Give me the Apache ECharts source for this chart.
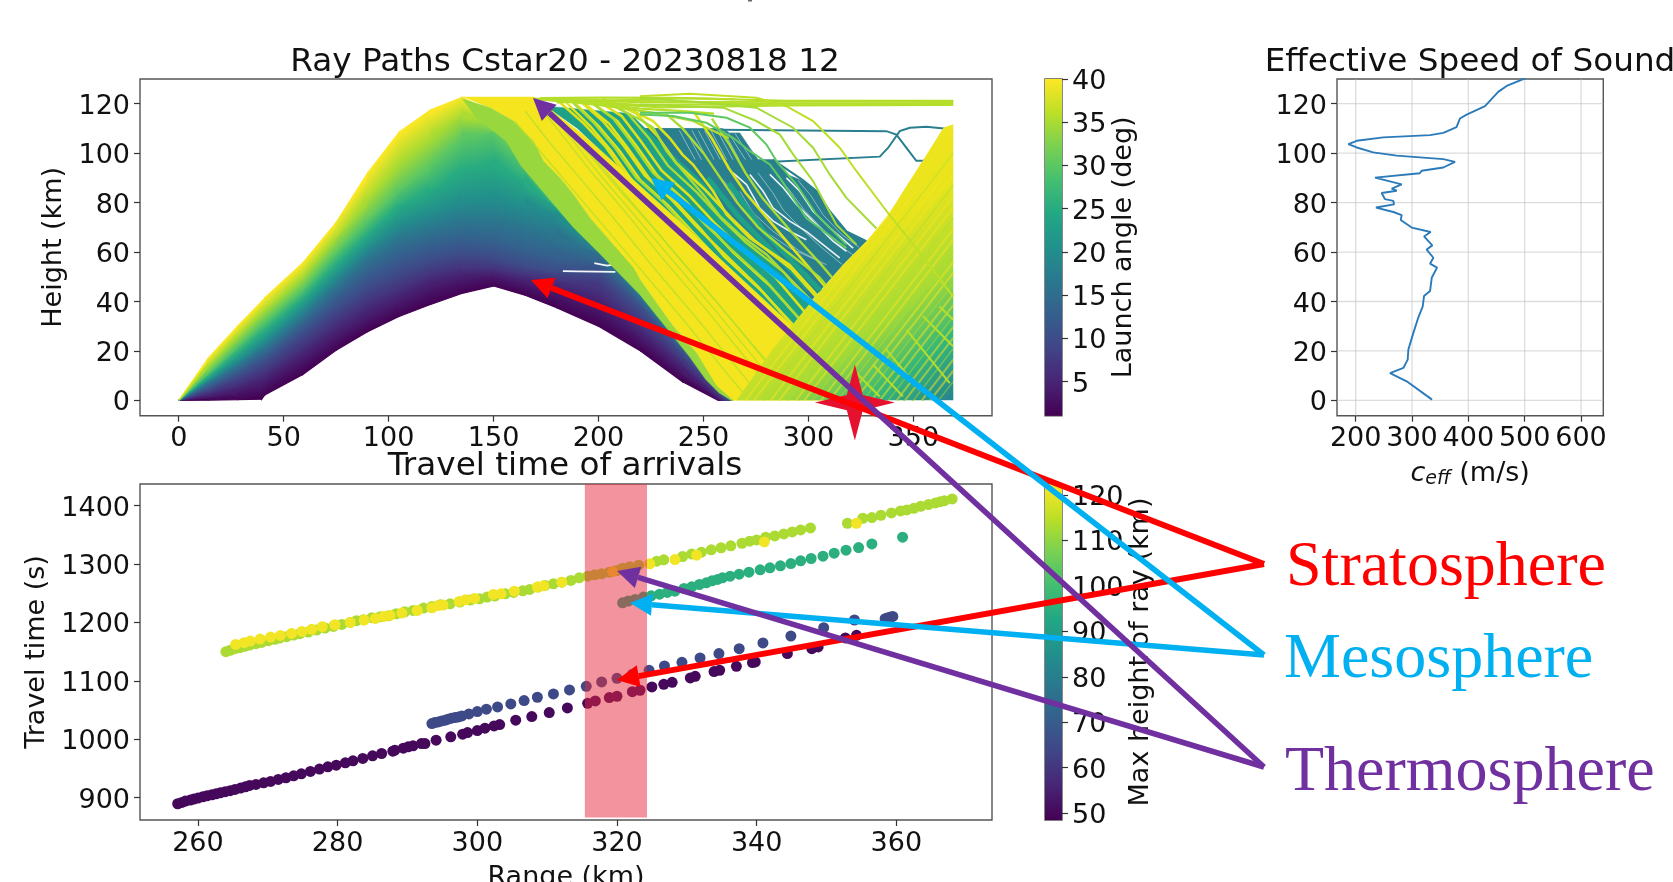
<!DOCTYPE html>
<html><head><meta charset="utf-8">
<style>html,body{margin:0;padding:0;background:#fff}#c{width:1673px;height:882px}</style>
<script src="https://cdn.jsdelivr.net/npm/echarts@6/dist/echarts.min.js"></script>
</head><body><div id="c"></div>
<script>
// ---------- tick labels ----------
const rangeTicksTop=[0,50,100,150,200,250,300,350];
const heightTicks=[0,20,40,60,80,100,120];
const launchTicks=[5,10,15,20,25,30,35,40];
const ceffTicks=[200,300,400,500,600];
const rangeTicksBottom=[260,280,300,320,340,360];
const timeTicks=[900,1000,1100,1200,1300,1400];
const maxHeightTicks=[50,60,70,80,90,100,110,120];

// ---------- effective speed of sound [c (m/s), height (km)] ----------
const ceffProfile=[[335.5,.3],[290.5,7.7],[261,11],[284.6,13.1],[292.3,16.5],[293.5,20.6],[302.4,27.3],[311,33.4],[319,38],[321.3,42.2],[332,44.2],[335,49.6],[344.4,53.7],[332,55.3],[337.9,57.7],[326,61],[336,62.7],[321.3,66.3],[333,68.1],[299.4,69.9],[279.9,73],[281.7,74.9],[266.9,76.2],[236,78],[268,79.3],[266.9,80.7],[252,81.4],[246,83.9],[272.8,84.8],[263.9,85.7],[281.7,87.4],[234.3,90.1],[314,91.9],[317,92.9],[355.6,94.2],[376.3,96.5],[355.6,97.6],[272.8,99],[231,100.3],[201.8,102.3],[187,103.7],[201.8,105],[249,106.4],[332,107.3],[355.6,108.2],[379,110.5],[385,114],[397,115.6],[429.6,119],[453,124.8],[468,127.2],[502,130.4]];

// ---------- arrivals [range (km), travel time (s)] ----------
const lowArrivals=[[257.1,889.7],[257.7,892],[258.2,894.3],[258.9,896],[259.4,897.7],[260,899.4],[260.7,901.7],[261.3,903.4],[262,905.1],[262.6,906.8],[263.2,908.5],[263.9,910.3],[264.6,912],[265.3,914.2],[266.1,916.5],[266.8,918.8],[267.4,921],[268.3,922.8],[269.4,925.6],[270.4,927.9],[271.5,931.3],[272.6,934.2],[273.7,937.6],[274.8,941],[276.1,945],[277.4,949],[278.6,953],[279.8,955.8],[281.1,959.8],[282.2,963.2],[283.6,967.2],[285,971.8],[286.3,975.7],[287.9,979.7],[288.2,981.4],[289.4,984.9],[290.1,987.1],[290.8,988.8],[292,992.8],[292.5,992.8],[294.1,998.5],[296.2,1004.2],[297.9,1008.8],[298.6,1011.6],[300,1015],[301.1,1019],[302.4,1023],[303.2,1025.3],[305.5,1032.7],[307.8,1039],[310.3,1045.8],[312.9,1053.8],[315.8,1061.7],[316.9,1065.7],[318.9,1071.4],[320,1073.7],[322.2,1081.6],[323.3,1084],[325,1089.6],[326.7,1094.2],[327.9,1097.6],[330.5,1105],[331.2,1107.9],[333.9,1115.9],[334.7,1118.2],[337.1,1125],[339.4,1131.3],[339.8,1132.5],[344.4,1146.7],[347.9,1155.2],[348.8,1158.1],[352.7,1173.5],[354.3,1178]];
const stratArrivals=[[293.5,1027],[293.9,1028.7],[294.4,1029.8],[294.9,1031.5],[295.4,1032.7],[295.8,1034.4],[296.3,1036.1],[296.8,1037.2],[297.3,1038.4],[297.8,1040.1],[298.8,1043.5],[300,1047.5],[301.3,1051.5],[302.9,1055.5],[304.8,1060.6],[306.7,1066.3],[308.6,1072],[310.9,1077.7],[313.2,1084.5],[315.6,1090.8],[317.8,1098.2],[320,1104.4],[322.2,1111.3],[324.6,1118.1],[326.8,1125.5],[329.3,1131.8],[331.9,1139.2],[334.6,1146.7],[337.5,1155.2],[340.9,1164.9],[344.9,1176.8],[349.6,1191.1],[354,1204.2],[358.4,1206.4],[358.8,1208.1],[359.2,1209.2],[359.5,1210.4]];
const mesoArrivals=[[320.8,1233.7],[321.6,1236.6],[322.6,1239.4],[323.8,1243.4],[324.9,1245.7],[326.1,1248.5],[327.2,1251.4],[328.3,1253.6],[329.6,1258.2],[330.7,1261],[331.8,1265],[332.8,1267.9],[333.6,1271.3],[334.4,1273.6],[335.1,1276.4],[336.2,1279.3],[337.5,1282.7],[338.9,1286.1],[340.5,1290.1],[341.9,1293.5],[343.4,1296.9],[344.9,1300.9],[346.3,1305.5],[347.8,1309.5],[349.5,1313.4],[351.1,1318.6],[352.8,1323.7],[354.6,1328.2],[356.5,1334.5],[360.9,1345.9]];
const thermoLowArrivals=[[264,1150],[264.6,1152.3],[265.3,1155.1],[266,1156.8],[266.7,1159.1],[267.4,1161.4],[268.3,1163.7],[269.1,1165.9],[270.1,1168.8],[271,1171.1],[271.7,1173.3],[272.7,1175.6],[273.7,1178.5],[274.6,1180.8],[275.8,1183.6],[277,1187],[278.2,1190.4],[279.4,1193.3],[280.6,1196.7],[281.8,1200.1],[282.7,1203],[283.7,1204.7],[284.9,1208.1],[286.1,1209.8],[287.3,1211.5],[288.4,1214.9],[289.6,1218.3],[290.8,1220.6],[292.3,1224.6],[293.5,1227.4],[294.7,1230.3],[296.1,1232],[297.5,1234.9],[299,1238.3],[300.3,1240.5],[301.4,1243.4],[302.5,1245.1],[304,1249.1],[305.2,1251.4],[306.5,1254.2],[307.5,1256.5],[308.7,1260.5],[309.7,1263.3],[310.9,1266.2],[312.1,1269],[313.4,1271.9],[314.6,1276.4],[315.8,1279.3],[316.8,1281.5],[317.8,1283.3],[318.9,1286.1],[320,1288.9],[320.8,1292.9],[321.8,1295.2],[323.1,1298.1],[325.7,1304.9],[326.7,1307.2],[329.4,1312.9],[330.7,1317.4],[332.1,1320.3],[333.5,1324.3],[334.9,1327.7],[336.3,1331.1],[337.9,1335.6],[339,1339.1],[340,1341.3],[341.3,1345.9],[342.6,1348.2],[343.9,1351.6],[345.1,1355],[346.3,1358.4],[347.7,1361.8],[353,1369.8],[355.2,1378.4],[356.5,1379.5],[357.8,1383.5],[359.3,1387.5],[360.6,1390.9],[361.5,1392.6],[362.5,1395.4],[363.5,1398.9],[364.6,1401.7],[365.6,1404.6],[366.3,1406.8],[366.9,1408.5],[368,1411.4]];
const thermoHighArrivals=[[265.4,1162.5],[266.6,1165.4],[267.5,1168.2],[268.9,1171.6],[270.4,1175.1],[271.8,1177.9],[273.4,1181.3],[274.9,1184.7],[276.3,1188.2],[277.8,1192.7],[279.6,1196.1],[281.8,1200.1],[283.8,1204.1],[285.4,1206.9],[286.6,1210.4],[287.5,1212.1],[289.2,1216.1],[291.4,1220.6],[293.5,1225.2],[294.4,1229.2],[295.1,1229.7],[297.4,1236],[298.3,1238.8],[299.6,1241.1],[302.3,1247.9],[303.4,1249.1],[305.3,1253.6],[308.6,1260.5],[309.5,1262.8],[312.1,1269],[319.4,1287.2],[324.7,1300.3],[328.3,1307.7],[331.4,1315.1],[341.1,1337.9],[354.3,1369.8]];
const arrivalHeights={low:50,strat:65,meso:95,thermoLow:113,thermoHigh:121};
const windowRange=[315.4,324.3];
const windowTime=[866,1437];
const stationPoint=[322.1,-0.9];

// ---------- ray fan: launch angle, height (km) at each fan range, ground-hit range ----------
const fanRange=[0,14,28,39.5,41,59,75,90,105,120,135,150,165,180,200,220,240];
const fanAngles=[1,4,7,10,13,16,20,25,30,35,40];
const fanEnd=[257,258.5,260,262,263.6,263.6,263.6,263.6,263.6,263.6,263.6];
const fanHeights=[
[0,.1,.3,.5,2.2,10.4,20.3,27.8,34,38.8,43.3,46.3,42.5,37.5,30,20,7.5],
[0,1.6,3.5,7,7.3,17,26,34,40,46,49.5,50.5,47.5,44,38,26,12],
[0,3,7,11,11.5,22,32,40,46,51.5,54,53.5,51,49,46,31,16],
[0,4.5,9.7,15,15.5,27,37,46,52,57,59.5,58,54.5,52,52,37,19],
[0,5.8,12,18,18.6,30.5,42,52,59,63,65.5,64.5,61,58,56,40,21],
[0,7,14,20.5,21,33.5,46,57,65,69,72,72,69,66,60,42,21.5],
[0,8,16,23,24,37,50,62,71,76,80.5,81.5,79,76,60.5,42.5,22],
[0,9.5,19,27,28,41,55,67,79,85,93,96,89,78,61,43,22],
[0,11,22,31,32,45,60,73,85,95,106,109,96,79,61.5,43.5,22.5],
[0,14,26,35.5,36.5,50,66,81,96,106,116,112,100,80,62,44,23],
[0,17,30,40,41.5,55.5,72,92,108.5,117.5,122.6,116,105,81,62.5,44.5,23.5]];

// ---------- ray bundles drawn as outlines [range, height] ----------
const tealBundle=[[190,115],[205,110],[259,110],[262.5,108.2],[267.3,108.2],[272.1,102.1],[276,97.4],[283,97.4],[291,91],[297.5,88.7],[303.9,84.6],[310.2,76.5],[318.1,68.4],[327.6,64.4],[316.5,54.9],[302,41],[283,21],[240,60]];
const greenBundle=[[175,119],[215,116],[232,102],[250,88],[272,64],[296,44],[310,30],[280,10],[240,69],[190,110]];
const yellowBundle=[[135.7,122.7],[169,122.7],[192,108],[243,69],[295,28],[320,5],[320,0],[264,0],[256.2,5.7],[246.7,19.2],[235.6,29.9],[219.7,48.9],[207,63],[195.9,73.8],[188,83.3],[181.6,90],[173.7,96.8],[168.9,104.9],[159.4,113],[148.3,118.4]];
const limeBundle=[[135,122],[148.3,118.4],[159.4,113],[168.9,104.9],[173.7,96.8],[181.6,90],[188,83.3],[195.9,73.8],[207,63],[216.6,53.6],[219.7,48.9],[235.6,29.9],[246.7,19.2],[256.2,5.7],[264.1,0],[263.2,0],[257.5,3],[251.1,8.4],[243.2,17.8],[235.6,25.9],[219.7,42.8],[201,59],[188,70],[175,83],[163,95],[156,105],[142,114]];
const reflectedBundle=[[265.8,0],[283.2,21],[302.2,40.8],[316.5,54.9],[327.6,64.4],[337.2,73.8],[345.1,84.6],[354.8,97.4],[364.3,110.3],[369,111.7],[369,0]];

// ---------- single rays [range, height] ----------
const thinRays=[
[[178,117],[190,106],[205,91],[222,74],[240,56],[262,34],[285,10],[296,0]],
[[174,119],[186,107],[200,92],[217,75],[235,57],[257,35],[280,11],[291,0]],
[[170,121],[182,108],[196,93],[212,77],[230,58],[252,36],[275,12],[287,0]],
[[165,117],[177,104],[190,91],[206,75],[224,56],[246,34],[268,11],[279,0]],
[[160,113],[172,101],[185,88],[200,73],[218,55],[240,33],[262,10],[272,0]],
[[182,112],[195,100],[210,85],[228,68],[246,50],[268,28],[290,6],[296,0]]];
const thermoRays=[
[[181,121],[193,112],[203,103],[214,90],[226,80],[238,70],[250,58],[268,42],[290,21],[315,0]],
[[186,122],[198,112],[208,102],[218,90],[231,80],[243,69],[255,59],[272,44],[295,22],[320,0]],
[[190,122],[202,113],[212,103],[222,91],[235,81],[247,70],[259,60],[276,46],[299,24],[324,0]],
[[194,122],[207,114],[216,104],[226,92],[239,82],[251,71],[262,62],[280,48],[303,26],[328,0]],
[[198,122],[211,115],[220,105],[230,93],[243,83],[255,72],[266,63],[284,50],[307,27],[333,0]],
[[202,122],[214,116],[224,106],[233,95],[247,84],[259,73],[270,64],[288,52],[311,29],[338,0]],
[[206,121],[218,116],[228,107],[237,96],[251,85],[263,74],[274,65],[292,53],[315,31],[343,0]],
[[205,120],[219.7,113.6],[226,110.3],[232.4,100.8],[240.3,92.7],[249.9,83.2],[257.8,74.5],[267.3,67],[280,59],[296,45],[320,24],[346,0]],
[[214,118],[226,113],[234,106],[240,99.4],[245,95.4],[254.6,84.6],[261,75.2],[272,65.7],[291,54.9],[310,37],[350,0]],
[[232,116],[240,110],[250,100],[258,90],[266,80],[276,70],[290,60],[305,50],[330,25],[355,0]],
[[246,116],[254,106],[262,94],[270,84],[284,70],[300,54],[310,44]],
[[254,114],[262,104],[270,92],[278,82],[292,68],[306,55],[315,46]]];
const thermoFillRays=[
[[184,121],[196,111],[206,101],[216,89],[229,78],[241,67],[253,56],[270,40],[293,19],[317,0]],
[[188,121],[200,111],[210,101],[220,89],[233,79],[245,68],[257,57],[274,42],[297,21],[322,0]],
[[192,121],[205,112],[214,102],[224,90],[237,80],[249,69],[260,58],[278,44],[301,23],[326,0]],
[[196,121],[209,113],[218,103],[228,91],[241,81],[253,70],[264,60],[282,46],[305,24],[331,0]]];
const upperRays=[
[[219.7,123],[243.5,124],[275.2,122.4],[289.5,119],[302.2,113],[314.9,102.2],[322.9,92.7],[337.9,75.8],[356.2,56.2],[369,42]],
[[219.7,122.4],[251.4,120.4],[275.2,118.4],[292.7,110.3],[302.2,102.2],[310.2,91.3],[318.1,81.9],[332.4,69.5]],
[[219.7,119.7],[259.4,118.4],[275.2,113],[286.4,107.5],[292.7,99.5],[302.2,88.7],[313.3,71.1],[322.9,63]]];
const greenRays=[
[[219.7,116.3],[243.5,116.3],[261,114.3],[272.1,110.3],[280,103.5],[284.8,96.8],[294.3,87.3],[303.8,75.2],[318.1,63]],
[[219.7,115.6],[235.6,115],[251.4,112.3],[264.1,106.2],[272.1,100.8],[281.6,95.4],[286.4,90],[299,73.8],[318.1,61.6]]];
const greenBands=[[[252,90],[267,74],[289,55],[300,45]],[[262,88],[279,68],[297,52],[306,44]]];
const flatRays=[
[[169,122],[220,120.6],[290,120.8],[369,121]],
[[169,122],[220,119.5],[290,120],[369,120.3]],
[[175,121.5],[230,118.5],[290,119.3],[369,119.5]],
[[180,120.5],[240,122.3],[290,121.2],[369,121.2]],
[[170,122],[195,120.5],[220,118],[240,117],[255,116]],
[[170,122],[200,119.5],[225,116.5],[245,113],[262,106]],
[[172,122],[200,121.5],[230,121],[262,120.5]],
[[172,122.3],[200,122.5],[235,122.4],[265,121.8]]];
const tealRayA=[[205,109.9],[337.1,108.9],[341.9,107.5],[346.7,102.1],[351.4,96.9],[356.2,96.9]];
const tealRayB=[[283,96.5],[334,98.6],[338,102.2],[343.5,108.9],[348.3,110.3],[356.2,110.7],[365.7,109.9]];
const tealOuter=[[283,97.4],[297.5,89],[303.9,84.6],[310.2,76.5],[318.1,68.4],[327.6,64.4]];
const shelfGaps=[[[238,110],[246,97.4]],[[241,110],[249,97.4]],[[244,110],[252,97.4]],[[247,110],[255,97.4]],[[250,110],[258,97.4]],[[253,110],[261,97.4]],[[256,110],[264,97.4]],[[259,110],[267,97.4]],[[262,108],[270,97.4]],[[265,108],[273,97.4]]];
const tealGaps=[
[[264.1,92],[270.5,87.3],[276.8,77.8],[283.2,72.5],[291.1,68.4],[299,65]],
[[272.1,91.4],[278.4,84.6],[283.2,77.8],[291.1,72.5],[299,68.4],[314.9,57.6]],
[[281.6,91.4],[288,86],[294.3,79.2],[302.2,72.5],[311.7,64.4],[318.1,60.3]],
[[289.5,90],[295.9,84.6],[302.2,76.5],[310.2,69.8],[321.3,61.6]]];
const tealFaintGaps=[
[[256.2,92],[262.5,86],[268.9,76.5],[276.8,69.8],[291.1,61.6],[308.6,54.9]],
[[267.3,84.6],[273.7,75.8],[283.2,68.4],[295.9,60.3],[305.4,56.3]],
[[276,92],[283,84],[288,77],[296,70],[306,62],[316,55]],
[[285,91],[291,85],[298,77],[306,70],[316,62],[326,56]],
[[295,89],[301,83],[307,75],[316,67],[324,62]]];
const fanGaps=[[[198,55.5],[204,54.5],[208,55]],[[183,52.3],[190,52.2],[208,52]]];
const reflectStart=[270,274,278,282,286,290,294,298,302,306,310,314,318,322,326,330,334,338,342,346,350,354,358,362];
const reflectEnd=[109,104.5,100,95.7,91.3,87,82.5,78,73.7,69.3,65,60.5,56,51.7,47.3,43,38.5,34,29.7,25.3,21,16.5,12,7.7];
const crossRays=[[[322.9,11],[334,1.6]],[[330.8,14.4],[345,1.6]],[[337.1,20.5],[352.9,4.3]],[[346.7,28.6],[367.3,7]],[[354.6,34],[368.9,21.9]],[[362.5,38],[368.9,32.7]]];

// ---------- colours ----------
const viridisStops=['#440154','#482475','#414487','#355f8d','#2a788e','#21918c','#22a884','#44bf70','#7ad151','#bddf26','#fde725'];
function rgb(h){return [1,3,5].map(i=>parseInt(h.substr(i,2),16));}
function viridis(t){t=Math.max(0,Math.min(1,t))*10;const i=Math.min(9,Math.floor(t)),f=t-i;const a=rgb(viridisStops[i]),b=rgb(viridisStops[i+1]);
 return 'rgb('+a.map((v,k)=>Math.round(v+(b[k]-v)*f)).join(',')+')';}
const launchExtent=[1.06,40], heightExtent=[48.5,122.4];
const angleColor=a=>viridis((a-launchExtent[0])/(launchExtent[1]-launchExtent[0]));
const heightColor=h=>viridis((h-heightExtent[0])/(heightExtent[1]-heightExtent[0]));
const gradientStops=viridisStops.map((c,i)=>({offset:i/10,color:c}));
const FONT='DejaVu Sans', INK='#111';

// ---------- series helpers ----------
const polySeries=(pts,fill)=>({type:'custom',xAxisIndex:0,yAxisIndex:0,silent:true,clip:false,data:[[0,0]],
 renderItem:(p,api)=>({type:'polygon',shape:{points:pts.map(q=>api.coord(q))},style:{fill:fill,stroke:typeof fill==='string'?fill:null,lineWidth:.5}})});
const rays=(list,color,width,opacity,ax)=>({type:'lines',coordinateSystem:'cartesian2d',polyline:true,silent:true,xAxisIndex:ax||0,yAxisIndex:ax||0,
 data:list.map(c=>({coords:c})),lineStyle:{color:color,width:width,opacity:opacity==null?1:opacity,curveness:0}});
const dots=(d,h)=>({type:'scatter',xAxisIndex:1,yAxisIndex:1,silent:true,data:d,symbolSize:11,itemStyle:{color:heightColor(h),opacity:1}});

// fan as a mesh of quads between neighbouring rays; colour varies across the rays only
const fanRays=fanHeights.map((r,i)=>r.map((h,j)=>[fanRange[j],h]).concat([[fanEnd[i],0]]));
const fanCells=[];for(let i=0;i<fanRays.length-1;i++)for(let j=0;j<fanRays[0].length-1;j++)fanCells.push([i,j]);
const fanSeries={type:'custom',xAxisIndex:0,yAxisIndex:0,silent:true,clip:false,data:fanCells,
 renderItem:(p,api)=>{const i=api.value(0),j=api.value(1);
  const a=api.coord(fanRays[i][j]),b=api.coord(fanRays[i][j+1]),c=api.coord(fanRays[i+1][j+1]),d=api.coord(fanRays[i+1][j]);
  const mx=(a[0]+b[0])/2,my=(a[1]+b[1])/2,qx=(c[0]+d[0])/2,qy=(c[1]+d[1])/2;
  let ex=(b[0]-a[0])+(c[0]-d[0]),ey=(b[1]-a[1])+(c[1]-d[1]);const len=Math.hypot(ex,ey)||1;ex/=len;ey/=len;
  const nx=-ey,ny=ex,s=(qx-mx)*nx+(qy-my)*ny;
  const c0=angleColor(fanAngles[i]),c1=angleColor(fanAngles[i+1]);
  const fill=Math.abs(s)<.5?c0:{type:'linear',global:true,x:mx,y:my,x2:mx+nx*s,y2:my+ny*s,colorStops:[{offset:0,color:c0},{offset:1,color:c1}]};
  return {type:'polygon',shape:{points:[a,b,c,d]},style:{fill:fill,stroke:fill,lineWidth:1.2}};}};
const barSeries=(idx,ext)=>({type:'custom',xAxisIndex:idx,yAxisIndex:idx,silent:true,data:[[0,0]],
 renderItem:(p,api)=>{const a=api.coord([0,ext[1]]),b=api.coord([1,ext[0]]);
  return {type:'rect',shape:{x:a[0],y:a[1],width:b[0]-a[0],height:b[1]-a[1]},style:{fill:{type:'linear',x:0,y:1,x2:0,y2:0,colorStops:gradientStops}}};}});
const gridLines=[...ceffTicks.map(v=>[[v,-6.2],[v,130]]),...heightTicks.map(v=>[[166.8,v],[639.6,v]])];

// ---------- axes ----------
const lab={color:INK,fontSize:27,fontFamily:FONT,formatter:v=>String(v)};
const tick={show:true,length:6,lineStyle:{color:'#333',width:1.2}};
const axis=(kind,extra,ticks,nameOpt)=>Object.assign({type:'value',min:extra[0],max:extra[1],gridIndex:extra[2],splitLine:{show:false},axisLine:{show:false,onZero:false},
 axisTick:Object.assign({},tick,{customValues:ticks}),
 axisLabel:Object.assign({},lab,{customValues:ticks,margin:10},kind==='x'?{}:{verticalAlign:'top',lineHeight:6}),
 nameTextStyle:{color:INK,fontSize:27,fontFamily:FONT}},nameOpt||{});
const hidden=(g)=>({type:'value',gridIndex:g,min:0,max:1,show:false});
const frame={show:true,borderColor:'#555',borderWidth:1.4,backgroundColor:'transparent',outerBoundsMode:'none',containLabel:false};
const titleStyle={fontSize:32.7,fontWeight:'normal',color:INK,fontFamily:FONT};

const option={animation:false,backgroundColor:'#fff',
 textStyle:{fontFamily:FONT},
 title:[
  {text:'Ray Paths Cstar20 - 20230818 12',left:560,top:41,textAlign:'center',textStyle:titleStyle},
  {text:'Effective Speed of Sound',left:1465,top:41,textAlign:'center',textStyle:titleStyle},
  {text:'Travel time of arrivals',left:560,top:445,textAlign:'center',textStyle:titleStyle}
 ],
 grid:[
  Object.assign({left:140,top:79,width:852,height:336.7},frame),
  Object.assign({left:140,top:484,width:852,height:336},frame),
  Object.assign({left:1337,top:79,width:266.3,height:336.7},frame),
  Object.assign({left:1045,top:79,width:17,height:336.7},frame),
  Object.assign({left:1045,top:484,width:17,height:336},frame)
 ],
 xAxis:[
  axis('x',[-18.45,387.45,0],rangeTicksTop),
  axis('x',[251.7,373.7,1],rangeTicksBottom,{name:'Range (km)',nameLocation:'middle',nameGap:44}),
  axis('x',[166.8,639.6,2],ceffTicks,{name:'{i|c}{s|eff}{n| (m/s)}',nameLocation:'middle',nameGap:44,
    nameTextStyle:{rich:{i:{fontStyle:'italic',fontSize:27,color:INK,fontFamily:FONT},s:{fontStyle:'italic',fontSize:19,color:INK,fontFamily:FONT,verticalAlign:'bottom',padding:[10,0,0,0]},n:{fontSize:27,color:INK,fontFamily:FONT}}}}),
  hidden(3),hidden(4)
 ],
 yAxis:[
  axis('y',[-6.2,130,0],heightTicks,{name:'Height (km)',nameLocation:'middle',nameGap:65,nameRotate:90}),
  axis('y',[861.9,1437,1],timeTicks,{name:'Travel time (s)',nameLocation:'middle',nameGap:84,nameRotate:90}),
  axis('y',[-6.2,130,2],heightTicks),
  axis('y',[launchExtent[0],launchExtent[1],3],launchTicks,{name:'Launch angle (deg)',nameLocation:'middle',nameGap:47,nameRotate:90,position:'right'}),
  axis('y',[heightExtent[0],heightExtent[1],4],maxHeightTicks,{name:'Max height of ray (km)',nameLocation:'middle',nameGap:62,nameRotate:90,position:'right'})
 ],
 series:[
  polySeries(tealBundle,'#2a7f8e'),
  rays(shelfGaps,'#fff',1,.45),
  rays(tealGaps,'#fff',1.6,.9),
  rays(tealFaintGaps,'#fff',1,.45),
  rays([tealRayA,tealRayB,tealOuter],'#2a7f8e',2),
  polySeries(greenBundle,'#1fa187'),
  rays(greenBands,'#1fa187',5),
  rays(thermoFillRays,'#e5e419',2.4),
  rays(thermoRays.filter((r,i)=>i%2===0),'#dbe21c',2.6),
  rays(thermoRays.filter((r,i)=>i%2===1),'#a8db34',2.4),
  fanSeries,
  rays(fanGaps,'#fff',1.8,.95),
  polySeries(yellowBundle,'#f5e51f'),
  polySeries(limeBundle,'#98d83e'),
  rays(thinRays,'#b5de2b',1.4,.8),
  rays(flatRays,'#b5de2b',2.2),
  rays(greenRays,'#5ec962',2),
  rays(upperRays.slice(1),'#a5db36',2),
  polySeries(reflectedBundle,{type:'linear',x:0,y:0,x2:1,y2:1,colorStops:[{offset:0,color:'#fde725'},{offset:.5,color:'#e8e41c'},{offset:.7,color:'#a5db36'},{offset:.85,color:'#35b779'},{offset:1,color:'#26838f'}]}),
  {type:'lines',coordinateSystem:'cartesian2d',polyline:true,silent:true,xAxisIndex:0,yAxisIndex:0,
   data:reflectStart.map((x,i)=>({coords:[[x,0],[369,reflectEnd[i]]],lineStyle:{color:i%3===2?'#b5de2b':'#f4e61e',width:i%3===2?1.4:2.2}})),lineStyle:{curveness:0}},
  rays(crossRays,'#b5de2b',2),
  rays(upperRays.slice(0,1),'#bddf26',2),
  {type:'scatter',xAxisIndex:0,yAxisIndex:0,silent:true,clip:false,z:4,data:[stationPoint],symbol:'path://M50 0 L60 40 L100 50 L60 60 L50 100 L40 60 L0 50 L40 40 Z',symbolSize:[80,76],itemStyle:{color:'#e6102f',opacity:1}},
  // arrivals
  dots(lowArrivals,arrivalHeights.low),
  dots(stratArrivals,arrivalHeights.strat),
  dots(mesoArrivals,arrivalHeights.meso),
  dots(thermoLowArrivals,arrivalHeights.thermoLow),
  dots(thermoHighArrivals,arrivalHeights.thermoHigh),
  {type:'custom',xAxisIndex:1,yAxisIndex:1,silent:true,clip:false,z:4,data:[[windowRange[0],windowTime[0]]],
   renderItem:(p,api)=>{const a=api.coord([windowRange[0],windowTime[1]]),b=api.coord([windowRange[1],windowTime[0]]);
    return {type:'rect',shape:{x:a[0],y:a[1],width:b[0]-a[0],height:b[1]-a[1]},style:{fill:'rgba(229,39,59,.5)'}};}},
  // sound speed
  {type:'lines',coordinateSystem:'cartesian2d',polyline:true,silent:true,xAxisIndex:2,yAxisIndex:2,data:gridLines.map(c=>({coords:c})),lineStyle:{color:'#bcbcbc',width:1.3,curveness:0}},
  {type:'line',xAxisIndex:2,yAxisIndex:2,silent:true,showSymbol:false,data:ceffProfile,lineStyle:{color:'#2b7bba',width:1.9},z:3},
  barSeries(3,launchExtent),
  barSeries(4,heightExtent)
 ],
 graphic:{elements:[]}
};

// ---------- annotations (page positions) ----------
const arrowLines=[
 {from:[1264,564],to:[531,280],color:'#ff0000',w:6},
 {from:[1264,564],to:[617,680],color:'#ff0000',w:6},
 {from:[1264,655],to:[651,178],color:'#00b0f0',w:5.5},
 {from:[1264,655],to:[630,603],color:'#00b0f0',w:5.5},
 {from:[1264,767],to:[533,98],color:'#7030a0',w:5.5},
 {from:[1264,767],to:[617,571],color:'#7030a0',w:5.5}];
const labels=[
 {text:'Stratosphere',x:1286,y:586.5,color:'#ff0000'},
 {text:'Mesosphere',x:1284,y:678.5,color:'#00b0f0'},
 {text:'Thermosphere',x:1285,y:791,color:'#7030a0'}];
const G=option.graphic.elements;
arrowLines.forEach((a,i)=>{const dx=a.to[0]-a.from[0],dy=a.to[1]-a.from[1],L=Math.hypot(dx,dy),ux=dx/L,uy=dy/L,hl=22,hw=11;
 const bx=a.to[0]-ux*hl,by=a.to[1]-uy*hl;
 G.push({type:'polyline',z:100+i,silent:true,shape:{points:[a.from,[bx,by]]},style:{stroke:a.color,lineWidth:a.w,fill:null}});
 G.push({type:'polygon',z:100+i,silent:true,shape:{points:[a.to,[bx-uy*hw,by+ux*hw],[bx+uy*hw,by-ux*hw]]},style:{fill:a.color}});});
labels.forEach(t=>G.push({type:'text',z:120,silent:true,style:{text:t.text,x:t.x,y:t.y,fill:t.color,font:'64px "Liberation Serif"',textAlign:'left',textVerticalAlign:'bottom',verticalAlign:'bottom'},y:14}));
G.push({type:'rect',z:120,silent:true,shape:{x:748,y:0,width:4,height:1.5},style:{fill:'#666'}});

echarts.init(document.getElementById('c'),null,{renderer:'canvas'}).setOption(option);
</script></body></html>
